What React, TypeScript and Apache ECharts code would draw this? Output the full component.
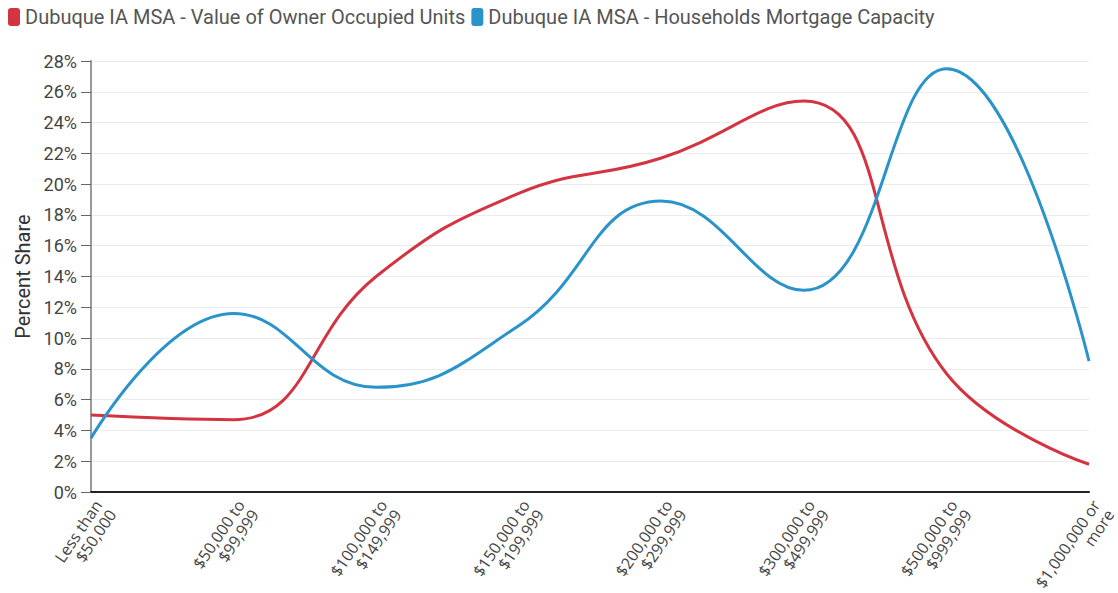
import React, { useEffect, useRef } from "react";
import * as echarts from "echarts";

const categories = [
  "Less than\n$50,000",
  "$50,000 to\n$99,999",
  "$100,000 to\n$149,999",
  "$150,000 to\n$199,999",
  "$200,000 to\n$299,999",
  "$300,000 to\n$499,999",
  "$500,000 to\n$999,999",
  "$1,000,000 or\nmore",
];
const ownerValues = [5.0, 4.7, 14.0, 19.4, 21.7, 25.4, 7.7, 1.8];
const mortgageValues = [3.5, 11.6, 6.8, 10.8, 18.9, 13.1, 27.5, 8.5];
const seriesNames = [
  "Dubuque IA MSA - Value of Owner Occupied Units",
  "Dubuque IA MSA - Households Mortgage Capacity",
];

export default function App() {
  const ref = useRef<HTMLDivElement>(null);
  useEffect(() => {
    const chart = echarts.init(ref.current!, null, { renderer: "svg" });
    chart.setOption({
      animation: false,
      color: ["#d43340", "#2a93c9"],
      legend: {
        left: 6,
        top: 5,
        padding: [2, 2, 2, 2],
        itemGap: 6,
        itemWidth: 12,
        itemHeight: 18,
        icon: "roundRect",
        textStyle: { fontFamily: "Roboto", fontSize: 20, color: "#555" },
        data: seriesNames,
      },
      grid: {
        left: 91,
        right: 29,
        top: 61,
        bottom: 101,
        containLabel: false,
        outerBoundsMode: "none",
      },
      xAxis: {
        type: "category",
        data: categories,
        boundaryGap: false,
        axisLine: { lineStyle: { color: "#222", width: 2 } },
        axisTick: { show: false },
        axisLabel: {
          rotate: 56,
          interval: 0,
          fontFamily: "Open Sans",
          fontSize: 16,
          color: "#444",
          lineHeight: 17,
          margin: 5,
          align: "right",
          verticalAlign: "top",
        },
      },
      yAxis: {
        type: "value",
        min: 0,
        max: 28,
        interval: 2,
        name: "Percent Share",
        nameLocation: "middle",
        nameGap: 58,
        nameTextStyle: { fontFamily: "Roboto", fontSize: 20, color: "#333" },
        axisLine: { show: true, lineStyle: { color: "#999", width: 2 } },
        axisTick: { show: true, length: 10, lineStyle: { color: "#666" } },
        axisLabel: {
          formatter: "{value}%",
          fontFamily: "Roboto",
          fontSize: 18,
          color: "#444",
          margin: 14,
        },
        splitLine: { lineStyle: { color: "#ececec" } },
      },
      series: [
        {
          name: seriesNames[0],
          type: "line",
          data: ownerValues,
          smooth: 0.45,
          showSymbol: false,
          lineStyle: { width: 3 },
        },
        {
          name: seriesNames[1],
          type: "line",
          data: mortgageValues,
          smooth: 0.45,
          showSymbol: false,
          lineStyle: { width: 3 },
        },
      ],
    });
    return () => chart.dispose();
  }, []);
  return (
    <div
      ref={ref}
      style={{ position: "absolute", left: 0, top: 0, width: 1118, height: 593 }}
    />
  );
}
